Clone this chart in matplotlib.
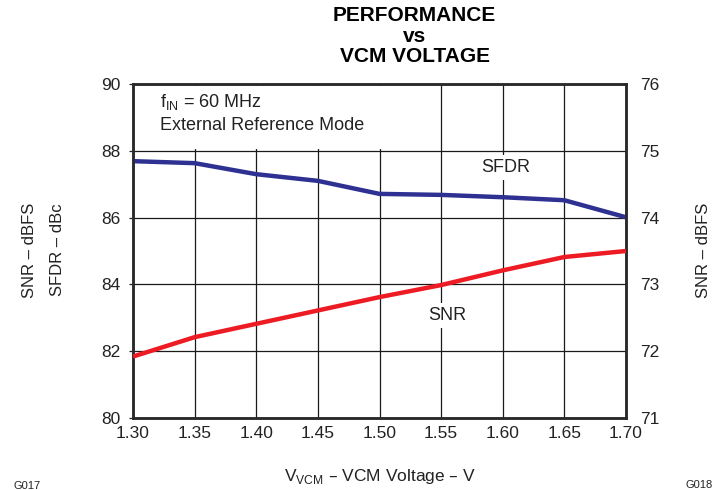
import matplotlib
matplotlib.use("Agg")
import matplotlib.pyplot as plt
from matplotlib.patches import Rectangle

plt.rcParams['font.family'] = ['Liberation Sans', 'DejaVu Sans']

# VCM voltage (V)
vcm = [1.30, 1.35, 1.40, 1.45, 1.50, 1.55, 1.60, 1.65, 1.70]
# SFDR in dBc (left axis)
sfdr = [87.69, 87.63, 87.30, 87.10, 86.71, 86.68, 86.61, 86.52, 86.01]
# SNR in dBFS (right axis)
snr = [71.92, 72.21, 72.41, 72.61, 72.81, 72.99, 73.21, 73.41, 73.50]

x_ticks = [1.30, 1.35, 1.40, 1.45, 1.50, 1.55, 1.60, 1.65, 1.70]
left_ticks = [80, 82, 84, 86, 88, 90]
right_ticks = [71, 72, 73, 74, 75, 76]

fig = plt.figure(figsize=(7.27, 4.9), dpi=100)
ax1 = fig.add_axes([133 / 727, 1 - 418 / 490, (626 - 133) / 727, (418 - 84) / 490])

ax1.plot(vcm, sfdr, color='#2e3192', lw=3.2, solid_capstyle='butt', zorder=3)
ax1.set_xlim(1.30, 1.70)
ax1.set_ylim(80, 90)
ax1.set_xticks(x_ticks)
ax1.set_xticklabels([f"{v:.2f}" for v in x_ticks])
ax1.set_yticks(left_ticks)
ax1.grid(True, color='#1a1a1a', lw=0.9)
ax1.tick_params(axis='x', length=0, pad=6, labelsize=12.5, colors='#222222')
ax1.tick_params(axis='y', length=3, width=0.9, pad=6, labelsize=12.5, colors='#222222')

ax2 = ax1.twinx()
ax2.plot(vcm, snr, color='#ed1c24', lw=3.2, solid_capstyle='butt', zorder=3)
ax2.set_ylim(71, 76)
ax2.set_yticks(right_ticks)
ax2.tick_params(axis='y', length=0, pad=10, labelsize=12.5, colors='#222222')

for ax in (ax1, ax2):
    for s in ax.spines.values():
        s.set_linewidth(1.8)
        s.set_color('#2a2a2a')

# white block behind the condition notes (hides the grid there)
ax1.add_patch(Rectangle((0.01, 0.805), 0.51, 0.188, transform=ax1.transAxes,
                        facecolor='white', edgecolor='none', zorder=2))

# annotations
txt_kw = dict(fontsize=13, color='#222222', zorder=4)
ax1.text(1.322, 89.45, r"f$_{\mathregular{IN}}$ = 60 MHz", va='center', **txt_kw)
ax1.text(1.322, 88.76, "External Reference Mode", va='center', **txt_kw)
box = dict(facecolor='white', edgecolor='none', pad=3)
ax1.text(1.602, 87.51, "SFDR", ha='center', va='center', bbox=box, **txt_kw)
ax1.text(1.555, 83.07, "SNR", ha='center', va='center', bbox=box, **txt_kw)

# titles and axis labels
title_kw = dict(fontsize=15, fontweight='bold', ha='center', va='center')
fig.text(414.5 / 727, 1 - 15.5 / 490, "PERFORMANCE", **title_kw)
fig.text(414.5 / 727, 1 - 37 / 490, "vs", **title_kw)
fig.text(414.5 / 727, 1 - 56.5 / 490, "VCM VOLTAGE", **title_kw)

lab_kw = dict(fontsize=12, rotation=90, ha='center', va='center', color='#222222')
fig.text(30 / 727, 1 - 250 / 490, "SNR – dBFS", **lab_kw)
fig.text(58 / 727, 1 - 250 / 490, "SFDR – dBc", **lab_kw)
fig.text(703 / 727, 1 - 250 / 490, "SNR – dBFS", **lab_kw)
fig.text(380 / 727, 1 - 476 / 490, r"V$_{\mathregular{VCM}}$ – VCM Voltage – V", fontsize=12.5,
         ha='center', va='center', color='#222222')
fig.text(14 / 727, 1 - 486 / 490, "G017", fontsize=8, ha='left', va='center', color='#222222')
fig.text(685 / 727, 1 - 485 / 490, "G018", fontsize=8, ha='left', va='center', color='#222222')

fig.savefig("out.png", dpi=100)
